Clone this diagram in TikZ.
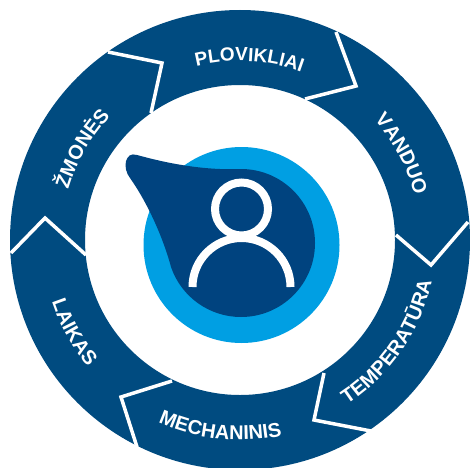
\documentclass[tikz,border=0pt]{standalone}
\usepackage{fontspec}
\usepackage{tikz}
\usetikzlibrary{decorations.text}
\newfontfamily\labelfont{Liberation Sans}
\definecolor{ringblue}{HTML}{004B80}
\definecolor{dropblue}{HTML}{00437F}
\definecolor{skyblue}{HTML}{009FE3}
\newcommand{\ringlabel}[5][20]{%
  \path[decorate, decoration={text along path, text align=center,
    text={|\labelfont\bfseries\fontsize{#1}{22}\selectfont\color{white}|#5}}]
    ([shift={(ctr)}]#3:#2pt) arc[start angle=#3, end angle=#4, radius=#2pt];}

\begin{document}
\begin{tikzpicture}[
                x=1pt, y=1pt,
                ring/.style={fill=ringblue, even odd rule},
                sep/.style={draw=white, line width=3.5pt, miter limit=10},
                figure/.style={draw=white, line width=8pt}
              ]
              \useasboundingbox (0,0) rectangle (470,467);
              \coordinate (ctr) at (240,227);

              % Draw ring
              \path[ring] (ctr) circle[radius=230pt] (ctr) circle[radius=155pt];

              % Draw separators
              \draw[sep] (336,435) -- (356,381) -- (305,368);
              \draw[sep] (108,415) -- (162,404) -- (151,354);
              \draw[sep] (11,214) -- (45,249) -- (86,212);
              \draw[sep] (396,232) -- (431,202) -- (468,245);
              \draw[sep] (324,94) -- (314,47) -- (371,36);
              \draw[sep] (172,86) -- (121,70) -- (137,20);

              % Draw labels
              \ringlabel[19]{179}{122}{52}{PLOVIKLIAI}
              \ringlabel{180}{63}{-7}{VANDUO}
              \ringlabel{179}{185}{115}{ŽMONĖS}
              \ringlabel{196}{-74}{5}{TEMPERATŪRA}
              \ringlabel{200}{-131}{-61}{MECHANINIS}
              \ringlabel{198}{174}{244}{LAIKAS}

              % Draw centre
              \fill[skyblue] (241.5,222) circle[radius=98pt];
              \fill[dropblue] (137,312) .. controls (152,308) and (195,296) .. (241,298)
                arc[start angle=90, end angle=-161, radius=74pt]
                .. controls (163,230) and (147,265) .. (130,289)
                .. controls (122,299) and (125,316) .. (137,312) -- cycle;

              % Draw person
              \draw[figure] (241.5,258) circle[radius=26.5pt];
              \draw[figure] (192.5,180) arc[start angle=180, end angle=0, radius=49pt];
            \end{tikzpicture}
\end{document}
